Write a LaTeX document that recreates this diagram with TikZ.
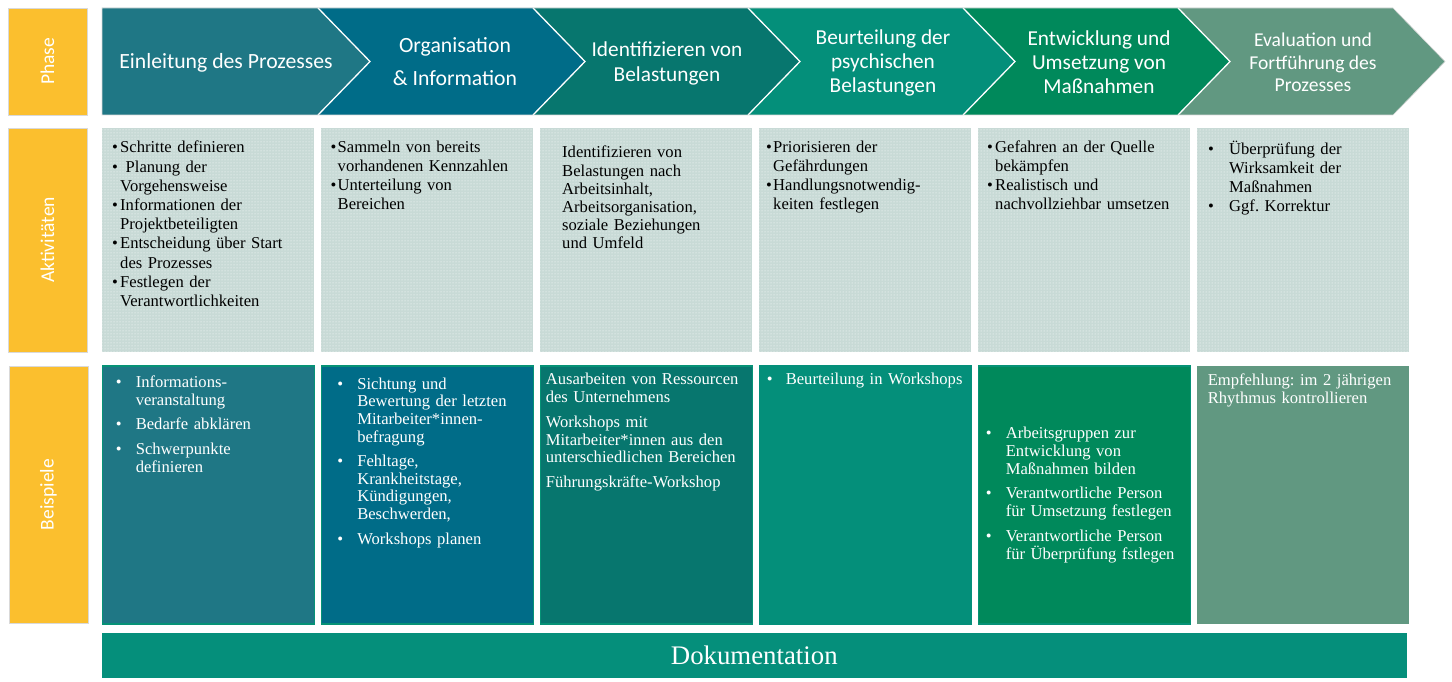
\documentclass[tikz,border=0pt]{standalone}
\usepackage{fontspec}
\setmainfont{Liberation Serif}
\newfontfamily\calfont{Carlito}
\usepackage{xcolor}
\usepackage{tikz}
\usetikzlibrary{positioning, patterns}
\frenchspacing

\definecolor{phaseyellow}{RGB}{251,191,46}
\definecolor{chevA}{RGB}{31,119,133}
\definecolor{chevB}{RGB}{0,108,136}
\definecolor{chevC}{RGB}{7,118,110}
\definecolor{chevD}{RGB}{4,143,122}
\definecolor{chevE}{RGB}{0,137,91}
\definecolor{chevF}{RGB}{97,152,129}
\definecolor{actgrey}{RGB}{200,218,214}
\definecolor{exborder}{RGB}{6,146,118}
\definecolor{docgreen}{RGB}{5,143,123}

\newcommand{\bitem}[3][0pt]{\vspace{#1}\leftskip=#2\noindent\llap{\makebox[#2][l]{\textbullet}}#3\par}

\begin{document}
\begin{tikzpicture}[
    x=1pt, y=-1pt,
    lab/.style={rotate=90, fill=phaseyellow, draw=black!15, line width=0.6pt,
                minimum width=#1, minimum height=79pt, inner sep=0pt,
                text=white, font=\calfont\fontsize{19.5}{22}\selectfont},
    phtext/.style={text=white, align=center, inner sep=0pt},
    actbox/.style={minimum width=212pt, minimum height=224pt, inner sep=0pt,
                   preaction={fill=actgrey}, pattern=dots, pattern color=white},
    exbox/.style={minimum width=212pt, minimum height=258pt, inner sep=0pt,
                  draw=exborder, line width=1.2pt},
    acttext/.style={text width=200pt, align=left, inner sep=0pt,
                    font=\fontsize{16.6}{18.8}\selectfont},
    extext/.style={text width=200pt, align=left, inner sep=0pt, text=white,
                   font=\fontsize{16.6}{17.8}\selectfont},
]
\useasboundingbox (0,0) rectangle (1452,682);

% phase arrows
\fill[chevA] (102,8) -- (318,8) -- (370,61.5) -- (318,115) -- (102,115) -- cycle;
\fill[chevB] (318,8) -- (533,8) -- (585,61.5) -- (533,115) -- (318,115) -- (370,61.5) -- cycle;
\fill[chevC] (533,8) -- (748,8) -- (800,61.5) -- (748,115) -- (533,115) -- (585,61.5) -- cycle;
\fill[chevD] (748,8) -- (963,8) -- (1015,61.5) -- (963,115) -- (748,115) -- (800,61.5) -- cycle;
\fill[chevE] (963,8) -- (1178,8) -- (1230,61.5) -- (1178,115) -- (963,115) -- (1015,61.5) -- cycle;
\fill[chevF] (1178,8) -- (1393,8) -- (1445,61.5) -- (1393,115) -- (1178,115) -- (1230,61.5) -- cycle;
\draw[white, line width=1.3pt] (318,8) -- (370,61.5) -- (318,115);
\draw[white, line width=1.3pt] (533,8) -- (585,61.5) -- (533,115);
\draw[white, line width=1.3pt] (748,8) -- (800,61.5) -- (748,115);
\draw[white, line width=1.3pt] (963,8) -- (1015,61.5) -- (963,115);
\draw[white, line width=1.3pt] (1178,8) -- (1230,61.5) -- (1178,115);
\draw[black!15, line width=0.6pt] (102,8) -- (1393,8) -- (1445,61.5) -- (1393,115) -- (102,115) -- cycle;

\node[phtext, font=\calfont\fontsize{21.7}{26}\selectfont] (ph1) at (226,63) {Einleitung des Prozesses};
\node[phtext, font=\calfont\fontsize{21.7}{33}\selectfont] (ph2) at (455,62) {Organisation\\\& Information};
\node[phtext, font=\calfont\fontsize{21.3}{25}\selectfont] (ph3) at (667,63.5) {Identifizieren von\\Belastungen};
\node[phtext, font=\calfont\fontsize{21.3}{24}\selectfont] (ph4) at (883,63) {Beurteilung der\\psychischen\\Belastungen};
\node[phtext, font=\calfont\fontsize{21.3}{24}\selectfont] (ph5) at (1099,62.5) {Entwicklung und\\Umsetzung von\\Maßnahmen};
\node[phtext, font=\calfont\fontsize{19.6}{22.5}\selectfont] (ph6) at (1313,62.5) {Evaluation und\\Fortführung des\\Prozesses};

% row labels
\node[lab=107pt] (lphase) at (47.5,61.5) {Phase};
\node[lab=224pt] (lakt) at (47.5,240) {Aktivitäten};
\node[lab=257pt] (lbsp) at (48.5,494.5) {Beispiele};

% activity boxes
\node[actbox, anchor=north west] (a1) at (102,128) {};
\node[actbox, right=6.6pt of a1] (a2) {};
\node[actbox, right=6.6pt of a2] (a3) {};
\node[actbox, right=6.6pt of a3] (a4) {};
\node[actbox, right=6.6pt of a4] (a5) {};
\node[actbox, right=6.6pt of a5] (a6) {};

% example boxes
\node[exbox, fill=chevA, below=13pt of a1] (e1) {};
\node[exbox, fill=chevB, below=13pt of a2] (e2) {};
\node[exbox, fill=chevC, below=13pt of a3] (e3) {};
\node[exbox, fill=chevD, draw=chevD, below=13pt of a4] (e4) {};
\node[exbox, fill=chevE, below=13pt of a5] (e5) {};
\node[exbox, fill=chevF, draw=none, below=13pt of a6] (e6) {};

\node[fill=docgreen, minimum width=1305pt, minimum height=45pt, inner sep=0pt,
      text=white, font=\fontsize{26.8}{30}\selectfont,
      below right=8pt and 0pt of e1.south west] (doc) {Dokumentation};

% activity texts
\node[acttext, font=\fontsize{16.6}{19.2}\selectfont,
      below right=13pt and 10pt of a1.north west] (t1) {%
  \bitem{8pt}{Schritte definieren}
  \bitem{8pt}{\ Planung der\\Vorgehensweise}
  \bitem{8pt}{Informationen der\\Projektbeteiligten}
  \bitem{8pt}{Entscheidung über Start\\des Prozesses}
  \bitem{8pt}{Festlegen der\\Verantwortlichkeiten}};
\node[acttext, below right=13pt and 9.5pt of a2.north west] (t2) {%
  \bitem{7pt}{Sammeln von bereits\\vorhandenen Kennzahlen}
  \bitem{7pt}{Unterteilung von\\Bereichen}};
\node[acttext, font=\fontsize{16.6}{18.2}\selectfont,
      below right=18pt and 22pt of a3.north west] (t3) {%
  Identifizieren von\\Belastungen nach\\Arbeitsinhalt,\\Arbeitsorganisation,\\soziale Beziehungen\\und Umfeld};
\node[acttext, below right=13pt and 7pt of a4.north west] (t4) {%
  \bitem{7pt}{Priorisieren der\\Gefährdungen}
  \bitem{7pt}{Handlungsnotwendig-\\keiten festlegen}};
\node[acttext, below right=13pt and 9pt of a5.north west] (t5) {%
  \bitem{8pt}{Gefahren an der Quelle\\bekämpfen}
  \bitem{8pt}{Realistisch und\\nachvollziehbar umsetzen}};
\node[acttext, below right=13pt and 11pt of a6.north west] (t6) {%
  \bitem{21pt}{Überprüfung der\\Wirksamkeit der\\Maßnahmen}
  \bitem{21pt}{Ggf. Korrektur}};

% example texts
\node[extext, below right=10pt and 14pt of e1.north west] (x1) {%
  \bitem{20pt}{Informations-\\veranstaltung}
  \bitem[7pt]{20pt}{Bedarfe abklären}
  \bitem[7pt]{20pt}{Schwerpunkte\\definieren}};
\node[extext, below right=12pt and 16.5pt of e2.north west] (x2) {%
  \bitem{20pt}{Sichtung und\\Bewertung der letzten\\Mitarbeiter*innen-\\befragung}
  \bitem[6pt]{20pt}{Fehltage,\\Krankheitstage,\\Kündigungen,\\Beschwerden,}
  \bitem[7pt]{20pt}{Workshops planen}};
\node[extext, below right=7.5pt and 6pt of e3.north west] (x3) {%
  Ausarbeiten von Ressourcen\\des Unternehmens\par\vspace{7pt}
  Workshops mit\\Mitarbeiter*innen aus den\\unterschiedlichen Bereichen\par\vspace{7pt}
  Führungskräfte-Workshop};
\node[extext, below right=7pt and 8pt of e4.north west] (x4) {%
  \bitem{19pt}{Beurteilung in Workshops}};
\node[extext, right=8pt of e5.west] (x5) {%
  \bitem{20pt}{Arbeitsgruppen zur\\Entwicklung von\\Maßnahmen bilden}
  \bitem[7pt]{20pt}{Verantwortliche Person\\für Umsetzung festlegen}
  \bitem[7pt]{20pt}{Verantwortliche Person\\für Überprüfung fstlegen}};
\node[extext, below right=8pt and 11pt of e6.north west] (x6) {%
  Empfehlung: im 2 jährigen\\Rhythmus kontrollieren};
\end{tikzpicture}
\end{document}
